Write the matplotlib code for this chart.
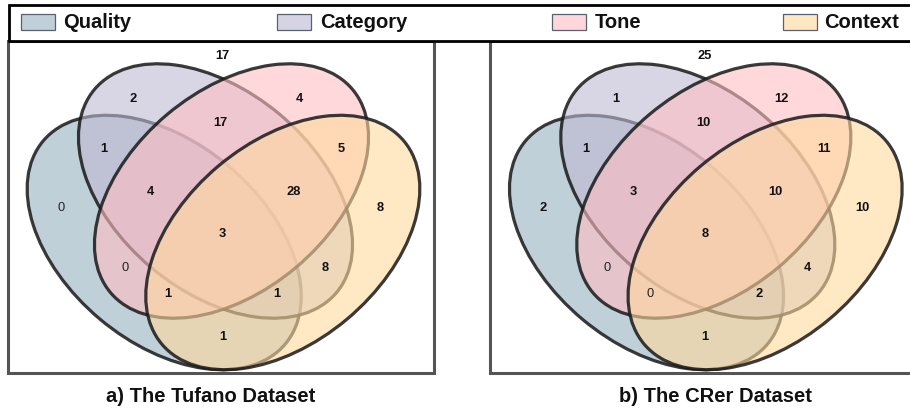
import matplotlib
matplotlib.use("Agg")
import matplotlib.pyplot as plt
from matplotlib.patches import Ellipse, Rectangle

plt.rcParams['font.family'] = ['Liberation Sans', 'DejaVu Sans']

# ---------------- data ----------------
set_names = ["Quality", "Category", "Tone", "Context"]
set_colors = ["#96b1be", "#beb9d2", "#ffbec3", "#ffd99e"]
legend_colors = ["#c0d0d8", "#d6d3e4", "#ffd7da", "#ffe7c2"]

# region codes: letters of the sets the region belongs to ('' = outside all)
regions = ["", "C", "T", "CT", "QC", "TX", "Q", "X",
           "QCT", "CTX", "QCTX", "QT", "CX", "QTX", "QCX", "QX"]
tufano_counts = [17, 2, 4, 17, 1, 5, 0, 8, 4, 28, 3, 0, 8, 1, 1, 1]
crer_counts = [25, 1, 12, 10, 1, 11, 2, 10, 3, 10, 8, 0, 4, 0, 2, 1]
panel_titles = ["a) The Tufano Dataset", "b) The CRer Dataset"]

# ---------------- layout (pixels, relative to a panel) ----------------
label_pos = {
    "": (222.7, 56), "C": (133.3, 99.3), "T": (299, 99.3), "CT": (220.7, 123.3),
    "QC": (104, 149.3), "TX": (341.7, 149.3), "Q": (61, 208.3), "X": (380, 208.3),
    "QCT": (150.7, 191.7), "CTX": (293.3, 191.7), "QCTX": (222.7, 234.3),
    "QT": (125, 268.3), "CX": (325, 268.3), "QTX": (167.7, 294),
    "QCX": (277.3, 294), "QX": (222.7, 336.7),
}
ell_centers = [(164.2, 242.5), (215.5, 191), (231.5, 191), (282.8, 242.5)]
ell_angles = [40, 40, -40, -40]
ell_w, ell_h = 316, 200
panel_dx = [0, 482.3]
title_x = [211, 715]

W, H = 910, 412
fig = plt.figure(figsize=(W / 100, H / 100), dpi=100)
ax = fig.add_axes([0, 0, 1, 1])
ax.set_xlim(0, W)
ax.set_ylim(H, 0)
ax.axis("off")

for p, counts in enumerate([tufano_counts, crer_counts]):
    dx = panel_dx[p]
    for (cx, cy), ang, col in zip(ell_centers, ell_angles, set_colors):
        ax.add_patch(Ellipse((cx + dx, cy), ell_w, ell_h, angle=ang,
                             facecolor=matplotlib.colors.to_rgba(col, 0.6),
                             edgecolor=(0.1, 0.1, 0.1, 0.86),
                             linewidth=2.3, zorder=2))
    for reg, val in zip(regions, counts):
        x, y = label_pos[reg]
        ax.text(x + dx, y, str(val), ha="center", va="center", fontsize=9.3,
                fontweight="normal" if val == 0 else "bold",
                color="#222222" if val == 0 else "#111111", zorder=5)
    ax.add_patch(Rectangle((8 + dx, 41), 426, 332, fill=False,
                           edgecolor="#555555", linewidth=2.2, zorder=3))
    ax.text(title_x[p], 397, panel_titles[p], ha="center", va="center",
            fontsize=14.5, fontweight="bold", color="#111111")

# legend box
ax.add_patch(Rectangle((9, 4.5), 920, 36, facecolor="white",
                       edgecolor="black", linewidth=2.0, zorder=6))
patch_x = [21, 277, 552, 783]
text_x = [63, 320, 595, 824]
for name, col, px, tx in zip(set_names, legend_colors, patch_x, text_x):
    ax.add_patch(Rectangle((px, 14.3), 34, 15.7, facecolor=col,
                           edgecolor="#5a6070", linewidth=0.9, zorder=7))
    ax.text(tx, 22.5, name, ha="left", va="center", fontsize=14.5,
            fontweight="bold", color="#111111", zorder=7)

fig.savefig("out.png", dpi=100)
